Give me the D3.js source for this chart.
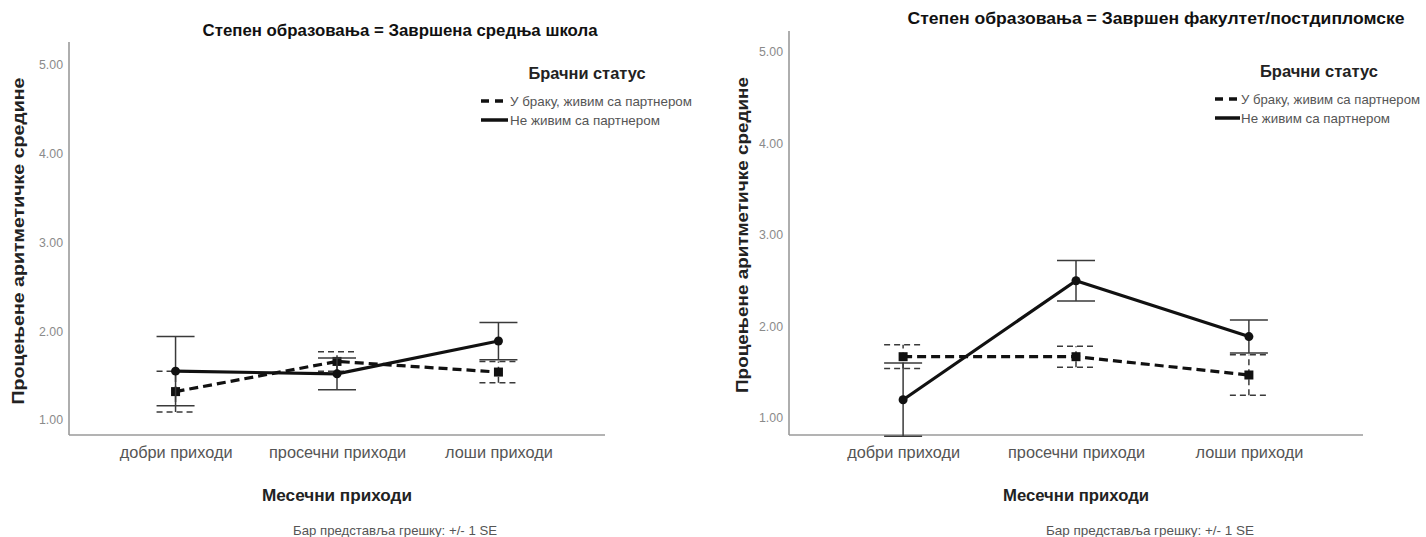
<!DOCTYPE html>
<html><head><meta charset="utf-8">
<script src="https://cdn.jsdelivr.net/npm/d3@7"></script>
<style>body{margin:0;background:#fff} text{font-family:"Liberation Sans",Arial,sans-serif}</style>
</head><body><svg id="c" width="1426" height="537"></svg>
<script>
// ---- data ----
const categories = ["добри приходи", "просечни приходи", "лоши приходи"];
const seriesNames = ["У браку, живим са партнером", "Не живим са партнером"];
const yTicks = [1, 2, 3, 4, 5];
const panelTitles = ["Степен образовања = Завршена средња школа", "Степен образовања = Завршен факултет/постдипломске"];
const yAxisTitle = "Процењене аритметичке средине";
const xAxisTitle = "Месечни приходи";
const legendTitle = "Брачни статус";
const footnote = "Бар представља грешку: +/- 1 SE";
// panel 1: secondary school
const schoolMarriedMean = [1.32, 1.66, 1.54];
const schoolMarriedSE   = [0.23, 0.11, 0.12];
const schoolAloneMean   = [1.55, 1.52, 1.89];
const schoolAloneSE     = [0.39, 0.18, 0.21];
// panel 2: faculty / postgraduate
const uniMarriedMean = [1.67, 1.67, 1.47];
const uniMarriedSE   = [0.13, 0.115, 0.22];
const uniAloneMean   = [1.20, 2.50, 1.89];
const uniAloneSE     = [0.40, 0.22, 0.18];

const panelsData = [
  {title: panelTitles[0], married: {mean: schoolMarriedMean, se: schoolMarriedSE}, alone: {mean: schoolAloneMean, se: schoolAloneSE}},
  {title: panelTitles[1], married: {mean: uniMarriedMean, se: uniMarriedSE}, alone: {mean: uniAloneMean, se: uniAloneSE}}
];

// ---- layout ----
const layouts = [
  {ax0: 69, ax1: 605, axY: 435, axTop: 42, y1: 420, y5: 65,
   title: {x: 400, y: 30, w: 395}, ylab: {x: 18, y: 241, w: 327},
   xt: {x: 337, y: 495, w: 150}, foot: {x: 395, y: 530, w: 204},
   leg: {tx: 587, ty: 73, tw: 117, sx: 481, sw: 27, textX: 510, rows: [101, 120], textW: [182, 150]}},
  {ax0: 789, ax1: 1363, axY: 435, axTop: 31, y1: 418, y5: 52,
   title: {x: 1156, y: 18, w: 497}, ylab: {x: 742, y: 235, w: 316},
   xt: {x: 1076, y: 495, w: 146}, foot: {x: 1150, y: 530, w: 208},
   leg: {tx: 1319, ty: 71, tw: 118, sx: 1215, sw: 25, textX: 1241, rows: [99, 118], textW: [179, 149]}}
];

const svg = d3.select("#c");
function fit(sel, w) { sel.attr("textLength", w).attr("lengthAdjust", "spacingAndGlyphs"); return sel; }

panelsData.forEach((pd, i) => {
  const L = layouts[i];
  const g = svg.append("g");
  const x = d3.scalePoint().domain(categories).range([L.ax0, L.ax1]).padding(0.66);
  const y = d3.scaleLinear().domain([1, 5]).range([L.y1, L.y5]);

  // axes lines
  g.append("line").attr("x1", L.ax0).attr("x2", L.ax0).attr("y1", L.axTop).attr("y2", L.axY)
    .attr("stroke", "#9a9a9a").attr("stroke-width", 1.6);
  g.append("line").attr("x1", L.ax0).attr("x2", L.ax1).attr("y1", L.axY).attr("y2", L.axY)
    .attr("stroke", "#9a9a9a").attr("stroke-width", 1.6);

  // y tick labels
  const ya = g.append("g").attr("transform", `translate(${L.ax0},0)`)
    .call(d3.axisLeft(y).tickValues(yTicks).tickFormat(d3.format(".2f")).tickSize(0).tickPadding(6));
  ya.select(".domain").remove();
  ya.selectAll("text").attr("fill", "#8a8a8a").style("font-size", "12px");
  ya.selectAll("text").each(function() { fit(d3.select(this), 24); });

  // x category labels
  const xa = g.append("g").attr("transform", `translate(0,${L.axY})`)
    .call(d3.axisBottom(x).tickSize(0).tickPadding(12));
  xa.select(".domain").remove();
  xa.selectAll("text").attr("fill", "#555").style("font-size", "16px");
  const ref = xa.selectAll("text").filter(d => d === categories[1]).node().getComputedTextLength();
  const ratio = 137 / ref;
  xa.selectAll("text").each(function() { const w = this.getComputedTextLength(); fit(d3.select(this), w * ratio); });

  // title
  fit(g.append("text").attr("x", L.title.x).attr("y", L.title.y).attr("text-anchor", "middle")
    .attr("dominant-baseline", "central").attr("font-weight", "bold").style("font-size", "17px")
    .attr("fill", "#111").text(pd.title), L.title.w);

  // y axis title
  fit(g.append("text").attr("transform", `translate(${L.ylab.x},${L.ylab.y}) rotate(-90)`)
    .attr("text-anchor", "middle").attr("dominant-baseline", "central").attr("font-weight", "bold")
    .style("font-size", "17px").attr("fill", "#222").text(yAxisTitle), L.ylab.w);

  // x axis title
  fit(g.append("text").attr("x", L.xt.x).attr("y", L.xt.y).attr("text-anchor", "middle")
    .attr("dominant-baseline", "central").attr("font-weight", "bold").style("font-size", "17px")
    .attr("fill", "#222").text(xAxisTitle), L.xt.w);

  // footnote
  fit(g.append("text").attr("x", L.foot.x).attr("y", L.foot.y).attr("text-anchor", "middle")
    .attr("dominant-baseline", "central").style("font-size", "13px")
    .attr("fill", "#555").text(footnote), L.foot.w);

  // legend
  fit(g.append("text").attr("x", L.leg.tx).attr("y", L.leg.ty).attr("text-anchor", "middle")
    .attr("dominant-baseline", "central").attr("font-weight", "bold").style("font-size", "17px")
    .attr("fill", "#222").text(legendTitle), L.leg.tw);
  seriesNames.forEach((nm, k) => {
    const ry = L.leg.rows[k];
    g.append("line").attr("x1", L.leg.sx).attr("x2", L.leg.sx + L.leg.sw).attr("y1", ry).attr("y2", ry)
      .attr("stroke", "#111").attr("stroke-width", 3.5)
      .attr("stroke-dasharray", k === 0 ? "8,6" : null);
    fit(g.append("text").attr("x", L.leg.textX).attr("y", ry).attr("dominant-baseline", "central")
      .style("font-size", "13px").attr("fill", "#555").text(nm), L.leg.textW[k]);
  });

  // series: dashed (married) first, then solid (not living with partner)
  const series = [
    {d: pd.married, dash: "9,5", ebDash: "6,4", marker: "square"},
    {d: pd.alone, dash: null, ebDash: null, marker: "circle"}
  ];
  series.forEach(s => {
    const pts = categories.map((c, j) => ({c, m: s.d.mean[j], se: s.d.se[j]}));
    // error bars
    const eb = g.append("g").attr("stroke", "#3a3a3a").attr("stroke-width", 1.5)
      .attr("stroke-dasharray", s.ebDash);
    pts.forEach(p => {
      const cx = x(p.c);
      eb.append("line").attr("x1", cx).attr("x2", cx).attr("y1", y(p.m - p.se)).attr("y2", y(p.m + p.se));
      [p.m - p.se, p.m + p.se].forEach(v => {
        eb.append("line").attr("x1", cx - 19).attr("x2", cx + 19).attr("y1", y(v)).attr("y2", y(v));
      });
    });
    // line
    g.append("path").datum(pts)
      .attr("d", d3.line().x(p => x(p.c)).y(p => y(p.m)))
      .attr("fill", "none").attr("stroke", "#111").attr("stroke-width", 3.2)
      .attr("stroke-dasharray", s.dash);
    // markers
    pts.forEach(p => {
      if (s.marker === "circle") {
        g.append("circle").attr("cx", x(p.c)).attr("cy", y(p.m)).attr("r", 4.5).attr("fill", "#111");
      } else {
        g.append("rect").attr("x", x(p.c) - 4.5).attr("y", y(p.m) - 4.5).attr("width", 9).attr("height", 9).attr("fill", "#111");
      }
    });
  });
});
</script></body></html>
